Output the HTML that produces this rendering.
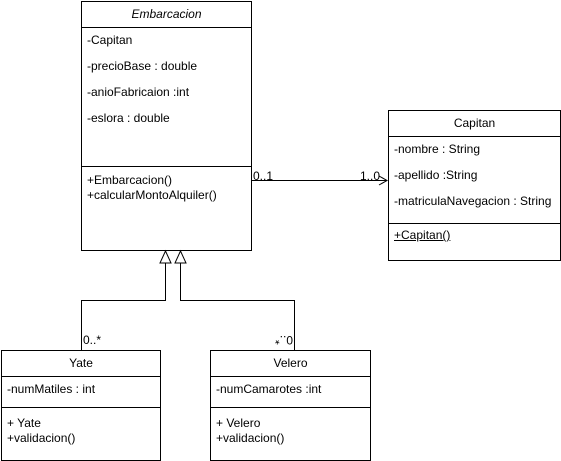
<!DOCTYPE html>
<html><head><style>
body{margin:0;width:561px;height:461px;background:#fff;font-family:"Liberation Sans",sans-serif;font-size:12px;color:#000}
svg{position:absolute;left:0;top:0}
.t{position:absolute;white-space:nowrap;font-size:12px}
</style></head><body>
<svg width="561" height="461">
<g fill="#fff" stroke="#000" stroke-width="1">
<rect x="81.5" y="1.5" width="170" height="249"/>
<line x1="81.5" y1="27.5" x2="251.5" y2="27.5"/>
<line x1="81.5" y1="166.5" x2="251.5" y2="166.5"/>
<rect x="388.5" y="110.5" width="172" height="150"/>
<line x1="388.5" y1="136.5" x2="560.5" y2="136.5"/>
<line x1="388.5" y1="223.5" x2="560.5" y2="223.5"/>
<rect x="1.5" y="350.5" width="159" height="110"/>
<line x1="1.5" y1="376.5" x2="160.5" y2="376.5"/>
<line x1="1.5" y1="407.5" x2="160.5" y2="407.5"/>
<rect x="210.5" y="350.5" width="160" height="110"/>
<line x1="210.5" y1="376.5" x2="370.5" y2="376.5"/>
<line x1="210.5" y1="407.5" x2="370.5" y2="407.5"/>
</g>
<g fill="none" stroke="#000">
<polyline points="251,180.5 387,180.5"/>
<polyline points="379,176 387,180.5 379,185"/>
<polyline points="165.5,263 165.5,300.5 81.5,300.5 81.5,350"/>
<polyline points="180.5,263 180.5,300.5 294.5,300.5 294.5,350"/>
<polygon points="165.5,251 160,263 171,263" fill="#fff"/>
<polygon points="180.5,251 175,263 186,263" fill="#fff"/>
</g>
</svg>
<div class="t" style="left:81px;top:7px;width:171px;text-align:center;font-style:italic">Embarcacion</div>
<div class="t" style="left:87px;top:33px">-Capitan</div>
<div class="t" style="left:87px;top:59px">-precioBase : double</div>
<div class="t" style="left:87px;top:85px">-anioFabricaion :int</div>
<div class="t" style="left:87px;top:111px">-eslora : double</div>
<div class="t" style="left:87px;top:173px;line-height:15px">+Embarcacion()<br>+calcularMontoAlquiler()</div>
<div class="t" style="left:388px;top:116px;width:173px;text-align:center">Capitan</div>
<div class="t" style="left:394px;top:142px">-nombre : String</div>
<div class="t" style="left:394px;top:168px">-apellido :String</div>
<div class="t" style="left:394px;top:194px">-matriculaNavegacion : String</div>
<div class="t" style="left:394px;top:228px;text-decoration:underline">+Capitan()</div>
<div class="t" style="left:253px;top:169px">0..1</div>
<div class="t" style="left:360px;top:169px">1..0</div>
<div class="t" style="left:83px;top:333px">0..*</div>
<div class="t" style="left:275px;top:333px;transform:rotate(180deg)">0..*</div>
<div class="t" style="left:1px;top:356px;width:160px;text-align:center">Yate</div>
<div class="t" style="left:7px;top:382px">-numMatiles : int</div>
<div class="t" style="left:7px;top:416px;line-height:15px">+ Yate<br>+validacion()</div>
<div class="t" style="left:210px;top:356px;width:161px;text-align:center">Velero</div>
<div class="t" style="left:216px;top:382px">-numCamarotes :int</div>
<div class="t" style="left:216px;top:416px;line-height:15px">+ Velero<br>+validacion()</div>
</body></html>
